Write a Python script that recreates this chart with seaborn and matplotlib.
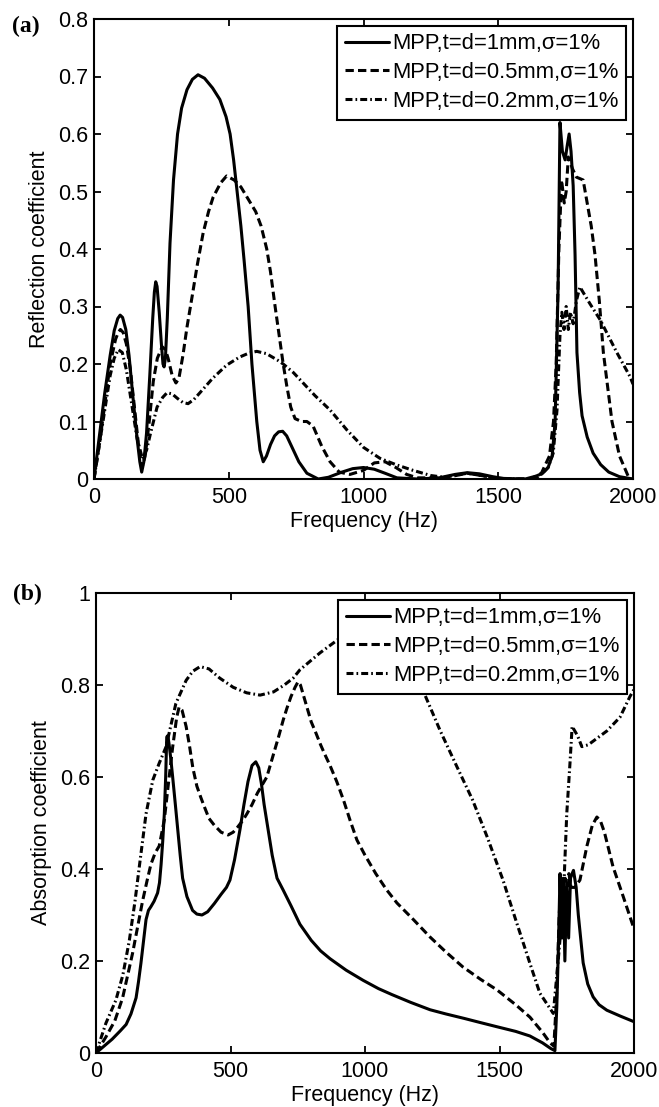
import matplotlib
matplotlib.use("Agg")
import matplotlib.pyplot as plt
import seaborn as sns

sns.set_style("ticks")
plt.rcParams['font.family'] = ['Liberation Sans', 'DejaVu Sans']
plt.rcParams['lines.scale_dashes'] = False
for k in ['text.color', 'axes.labelcolor', 'xtick.color', 'ytick.color', 'axes.edgecolor']:
    plt.rcParams[k] = 'black'

# ---------------- data ----------------
labels = ["MPP,t=d=1mm,σ=1%", "MPP,t=d=0.5mm,σ=1%", "MPP,t=d=0.2mm,σ=1%"]
x_ticks = [0, 500, 1000, 1500, 2000]
x_ticklabels = ["0", "500", "1000", "1500", "2000"]
ya_ticks = [0, 0.1, 0.2, 0.3, 0.4, 0.5, 0.6, 0.7, 0.8]
ya_ticklabels = ["0", "0.1", "0.2", "0.3", "0.4", "0.5", "0.6", "0.7", "0.8"]
yb_ticks = [0, 0.2, 0.4, 0.6, 0.8, 1.0]
yb_ticklabels = ["0", "0.2", "0.4", "0.6", "0.8", "1"]

# (a) reflection coefficient
f_a1 = [0, 20, 40, 60, 75, 88, 97, 106, 118, 130, 145, 160, 170, 177, 185, 195, 207, 218, 224, 229,
        234, 242, 250, 256, 260, 265, 272, 282, 295, 310, 325, 345, 365, 386, 410, 440, 467, 490, 505, 518,
        531, 545, 557, 572, 586, 604, 616, 628, 640, 655, 670, 685, 700, 715, 735, 760, 790, 832, 870, 920,
        960, 1000, 1040, 1080, 1124, 1200, 1280, 1340, 1385, 1430, 1480, 1520, 1600, 1640, 1665, 1685, 1700, 1711, 1722, 1729,
        1738, 1748, 1756, 1763, 1770, 1778, 1785, 1792, 1802, 1811, 1830, 1852, 1880, 1910, 1950, 2000]
r_a1 = [0, 0.075, 0.15, 0.215, 0.258, 0.279, 0.285, 0.281, 0.26, 0.215, 0.14, 0.07, 0.03, 0.012, 0.03, 0.08, 0.18, 0.28, 0.325, 0.343,
        0.335, 0.29, 0.235, 0.2, 0.195, 0.21, 0.28, 0.41, 0.52, 0.60, 0.645, 0.677, 0.695, 0.703, 0.697, 0.68, 0.66, 0.63, 0.60, 0.555,
        0.50, 0.44, 0.38, 0.30, 0.20, 0.10, 0.05, 0.03, 0.04, 0.06, 0.075, 0.082, 0.083, 0.075, 0.055, 0.03, 0.01, 0, 0.003, 0.012,
        0.018, 0.02, 0.017, 0.01, 0.002, 0, 0.002, 0.008, 0.011, 0.009, 0.004, 0.001, 0, 0.005, 0.01, 0.02, 0.04, 0.10, 0.33, 0.62,
        0.57, 0.555, 0.58, 0.60, 0.57, 0.51, 0.39, 0.22, 0.15, 0.11, 0.073, 0.045, 0.025, 0.012, 0.004, 0]

f_a2 = [0, 20, 40, 60, 80, 90, 98, 108, 120, 135, 150, 165, 178, 190, 205, 220, 235, 253, 265, 275,
        290, 304, 315, 330, 345, 365, 382, 405, 425, 442, 470, 492, 520, 545, 568, 600, 620, 641, 655, 672,
        690, 702, 716, 730, 746, 770, 790, 813, 845, 876, 910, 950, 1000, 1040, 1080, 1120, 1160, 1200, 1300, 1385,
        1450, 1500, 1620, 1660, 1690, 1705, 1715, 1725, 1735, 1745, 1752, 1760, 1768, 1775, 1790, 1815, 1830, 1845, 1859, 1875,
        1890, 1922, 1950, 1982, 2000]
r_a2 = [0, 0.06, 0.13, 0.2, 0.243, 0.255, 0.26, 0.255, 0.235, 0.19, 0.125, 0.06, 0.02, 0.04, 0.1, 0.17, 0.21, 0.23, 0.225, 0.21,
        0.18, 0.167, 0.175, 0.215, 0.264, 0.32, 0.369, 0.428, 0.465, 0.49, 0.515, 0.527, 0.52, 0.508, 0.49, 0.465, 0.44, 0.40, 0.36, 0.30,
        0.24, 0.20, 0.16, 0.125, 0.105, 0.10, 0.10, 0.092, 0.057, 0.03, 0.012, 0.008, 0.015, 0.028, 0.03, 0.02, 0.008, 0.002, 0.002, 0.01,
        0.005, 0, 0, 0.01, 0.04, 0.1, 0.2, 0.4, 0.52, 0.48, 0.5, 0.56, 0.55, 0.54, 0.525, 0.52, 0.48, 0.44, 0.39, 0.31,
        0.22, 0.10, 0.04, 0.005, 0]

f_a3 = [0, 20, 40, 60, 75, 90, 105, 120, 140, 160, 180, 195, 210, 234, 255, 271, 290, 310, 330, 349,
        370, 393, 440, 492, 540, 575, 604, 640, 680, 702, 740, 780, 820, 876, 939, 1000, 1061, 1120, 1184, 1250,
        1300, 1385, 1450, 1500, 1640, 1664, 1685, 1704, 1718, 1729, 1736, 1744, 1752, 1760, 1768, 1778, 1790, 1803, 1840, 1878,
        1940, 1989, 2000]
r_a3 = [0, 0.06, 0.12, 0.18, 0.21, 0.225, 0.22, 0.19, 0.13, 0.07, 0.035, 0.05, 0.08, 0.125, 0.142, 0.15, 0.148, 0.14, 0.133, 0.131,
        0.138, 0.15, 0.175, 0.198, 0.212, 0.219, 0.222, 0.218, 0.207, 0.2, 0.185, 0.165, 0.145, 0.12, 0.085, 0.055, 0.036, 0.025, 0.015, 0.006,
        0.003, 0.01, 0.005, 0, 0, 0.01, 0.02, 0.045, 0.12, 0.25, 0.29, 0.26, 0.30, 0.26, 0.29, 0.27, 0.31, 0.334, 0.305, 0.277,
        0.22, 0.178, 0.165]

# (b) absorption coefficient
f_b1 = [0, 30, 60, 90, 112, 130, 149, 158, 167, 177, 186, 195, 204, 216, 229, 236, 242, 248, 254, 259,
        263, 267, 272, 278, 285, 295, 304, 313, 322, 338, 359, 375, 394, 415, 440, 465, 485, 498, 515, 535,
        550, 565, 580, 594, 605, 615, 625, 640, 655, 673, 696, 725, 758, 800, 835, 870, 930, 993, 1050, 1100,
        1170, 1242, 1300, 1370, 1430, 1491, 1560, 1613, 1660, 1690, 1706, 1713, 1719, 1725, 1731, 1737, 1743, 1750, 1757, 1764,
        1770, 1775, 1785, 1793, 1811, 1828, 1848, 1870, 1899, 1950, 2000]
a_b1 = [0, 0.015, 0.03, 0.048, 0.062, 0.085, 0.12, 0.155, 0.195, 0.245, 0.29, 0.31, 0.318, 0.33, 0.348, 0.37, 0.41, 0.46, 0.52, 0.60,
        0.687, 0.69, 0.67, 0.64, 0.60, 0.54, 0.485, 0.43, 0.38, 0.34, 0.31, 0.302, 0.30, 0.307, 0.325, 0.345, 0.36, 0.376, 0.42, 0.485,
        0.54, 0.59, 0.625, 0.633, 0.62, 0.585, 0.54, 0.485, 0.43, 0.38, 0.354, 0.32, 0.28, 0.245, 0.222, 0.205, 0.18, 0.158, 0.14, 0.127,
        0.11, 0.094, 0.085, 0.075, 0.066, 0.057, 0.047, 0.037, 0.022, 0.01, 0.005, 0.1, 0.23, 0.39, 0.25, 0.38, 0.2, 0.37, 0.25, 0.38,
        0.39, 0.397, 0.36, 0.30, 0.196, 0.15, 0.122, 0.105, 0.093, 0.08, 0.068]

f_b2 = [0, 37, 70, 99, 136, 173, 190, 204, 220, 235, 254, 270, 285, 300, 309, 320, 335, 347, 360, 375,
        390, 403, 420, 440, 465, 491, 510, 525, 545, 561, 580, 600, 620, 635, 650, 665, 680, 696, 710, 725,
        740, 751, 760, 770, 785, 800, 818, 835, 850, 870, 895, 920, 945, 970, 1000, 1040, 1080, 1119, 1180, 1242,
        1300, 1364, 1430, 1491, 1560, 1613, 1660, 1688, 1702, 1712, 1722, 1730, 1737, 1744, 1751, 1758, 1766, 1780, 1799, 1825,
        1845, 1862, 1875, 1890, 1922, 1960, 2000]
a_b2 = [0, 0.035, 0.07, 0.12, 0.217, 0.33, 0.375, 0.41, 0.435, 0.45, 0.507, 0.59, 0.665, 0.73, 0.752, 0.745, 0.71, 0.67, 0.62, 0.58,
        0.555, 0.535, 0.51, 0.495, 0.48, 0.474, 0.48, 0.49, 0.505, 0.52, 0.54, 0.565, 0.585, 0.60, 0.63, 0.66, 0.69, 0.724, 0.75, 0.775,
        0.795, 0.807, 0.80, 0.78, 0.75, 0.72, 0.695, 0.67, 0.65, 0.625, 0.59, 0.55, 0.505, 0.463, 0.43, 0.39, 0.355, 0.326, 0.29, 0.252,
        0.22, 0.187, 0.16, 0.137, 0.105, 0.078, 0.045, 0.022, 0.015, 0.12, 0.3, 0.38, 0.25, 0.38, 0.28, 0.39, 0.36, 0.36, 0.376, 0.45,
        0.495, 0.513, 0.505, 0.48, 0.405, 0.34, 0.27]

f_b3 = [0, 37, 74, 100, 124, 145, 161, 186, 211, 235, 260, 297, 335, 360, 387, 420, 460, 510, 560, 610,
        660, 700, 733, 758, 833, 914, 1000, 1050, 1100, 1150, 1223, 1280, 1342, 1400, 1454, 1513, 1560, 1613, 1650, 1700,
        1718, 1737, 1750, 1762, 1770, 1790, 1806, 1830, 1899, 1948, 1985, 2000]
a_b3 = [0, 0.065, 0.115, 0.17, 0.245, 0.33, 0.405, 0.52, 0.593, 0.63, 0.665, 0.76, 0.81, 0.83, 0.84, 0.835, 0.815, 0.795, 0.783, 0.778,
        0.785, 0.80, 0.815, 0.833, 0.87, 0.905, 0.93, 0.94, 0.925, 0.87, 0.778, 0.70, 0.622, 0.55, 0.47, 0.376, 0.29, 0.195, 0.13, 0.086,
        0.2, 0.33, 0.52, 0.63, 0.71, 0.69, 0.666, 0.67, 0.70, 0.73, 0.775, 0.79]

# ---------------- figure ----------------
W, H = 659, 1107
fig = plt.figure(figsize=(W / 100, H / 100), dpi=100)
ax1 = fig.add_axes([94 / W, 1 - 479 / H, 539 / W, 460 / H])
ax2 = fig.add_axes([96 / W, 1 - 1053 / H, 538 / W, 460 / H])

line_styles = ['-', (0, (6, 3)), (0, (5, 2.2, 1.2, 2.2))]
FS = 15.5
LFS = 15.8

panels = [
    (ax1, [(f_a1, r_a1), (f_a2, r_a2), (f_a3, r_a3)], "Reflection coefficient", 0.8, ya_ticks, ya_ticklabels),
    (ax2, [(f_b1, a_b1), (f_b2, a_b2), (f_b3, a_b3)], "Absorption coefficient", 1.0, yb_ticks, yb_ticklabels),
]

for ax, series, ylab, ymax, yt, ytl in panels:
    for (fx, yy), ls, lab in zip(series, line_styles, labels):
        assert len(fx) == len(yy), (lab, len(fx), len(yy))
        sns.lineplot(x=fx, y=yy, ax=ax, color='black', linewidth=2.2, linestyle=ls,
                     label=lab, sort=False, estimator=None, errorbar=None)
    ax.set_xlim(0, 2000)
    ax.set_ylim(0, ymax)
    ax.set_xticks(x_ticks)
    ax.set_xticklabels(x_ticklabels)
    ax.set_yticks(yt)
    ax.set_yticklabels(ytl)
    ax.tick_params(direction='in', top=True, right=True, length=5, width=1.3,
                   labelsize=FS, colors='black')
    ax.tick_params(axis='x', pad=6)
    ax.tick_params(axis='y', pad=4)
    for sp in ax.spines.values():
        sp.set_visible(True)
        sp.set_linewidth(1.5)
        sp.set_color('black')
    ax.set_xlabel("Frequency (Hz)", fontsize=FS, labelpad=2)
    ax.set_ylabel(ylab, fontsize=FS, labelpad=6)
    leg = ax.legend(loc='upper right', frameon=True, fancybox=False, edgecolor='black',
                    framealpha=1, borderaxespad=0.3, handlelength=2.0, handletextpad=0.15,
                    labelspacing=0.36, borderpad=0.35, fontsize=LFS)
    leg.get_frame().set_linewidth(1.5)
    for h in leg.get_lines():
        h.set_linewidth(2.2)

fig.text(12 / W, 1 - 26 / H, "(a)", fontfamily='Liberation Serif', fontweight='bold',
         fontsize=17, va='center', ha='left')
fig.text(13 / W, 1 - 594 / H, "(b)", fontfamily='Liberation Serif', fontweight='bold',
         fontsize=17, va='center', ha='left')

fig.savefig("out.png", dpi=100)
